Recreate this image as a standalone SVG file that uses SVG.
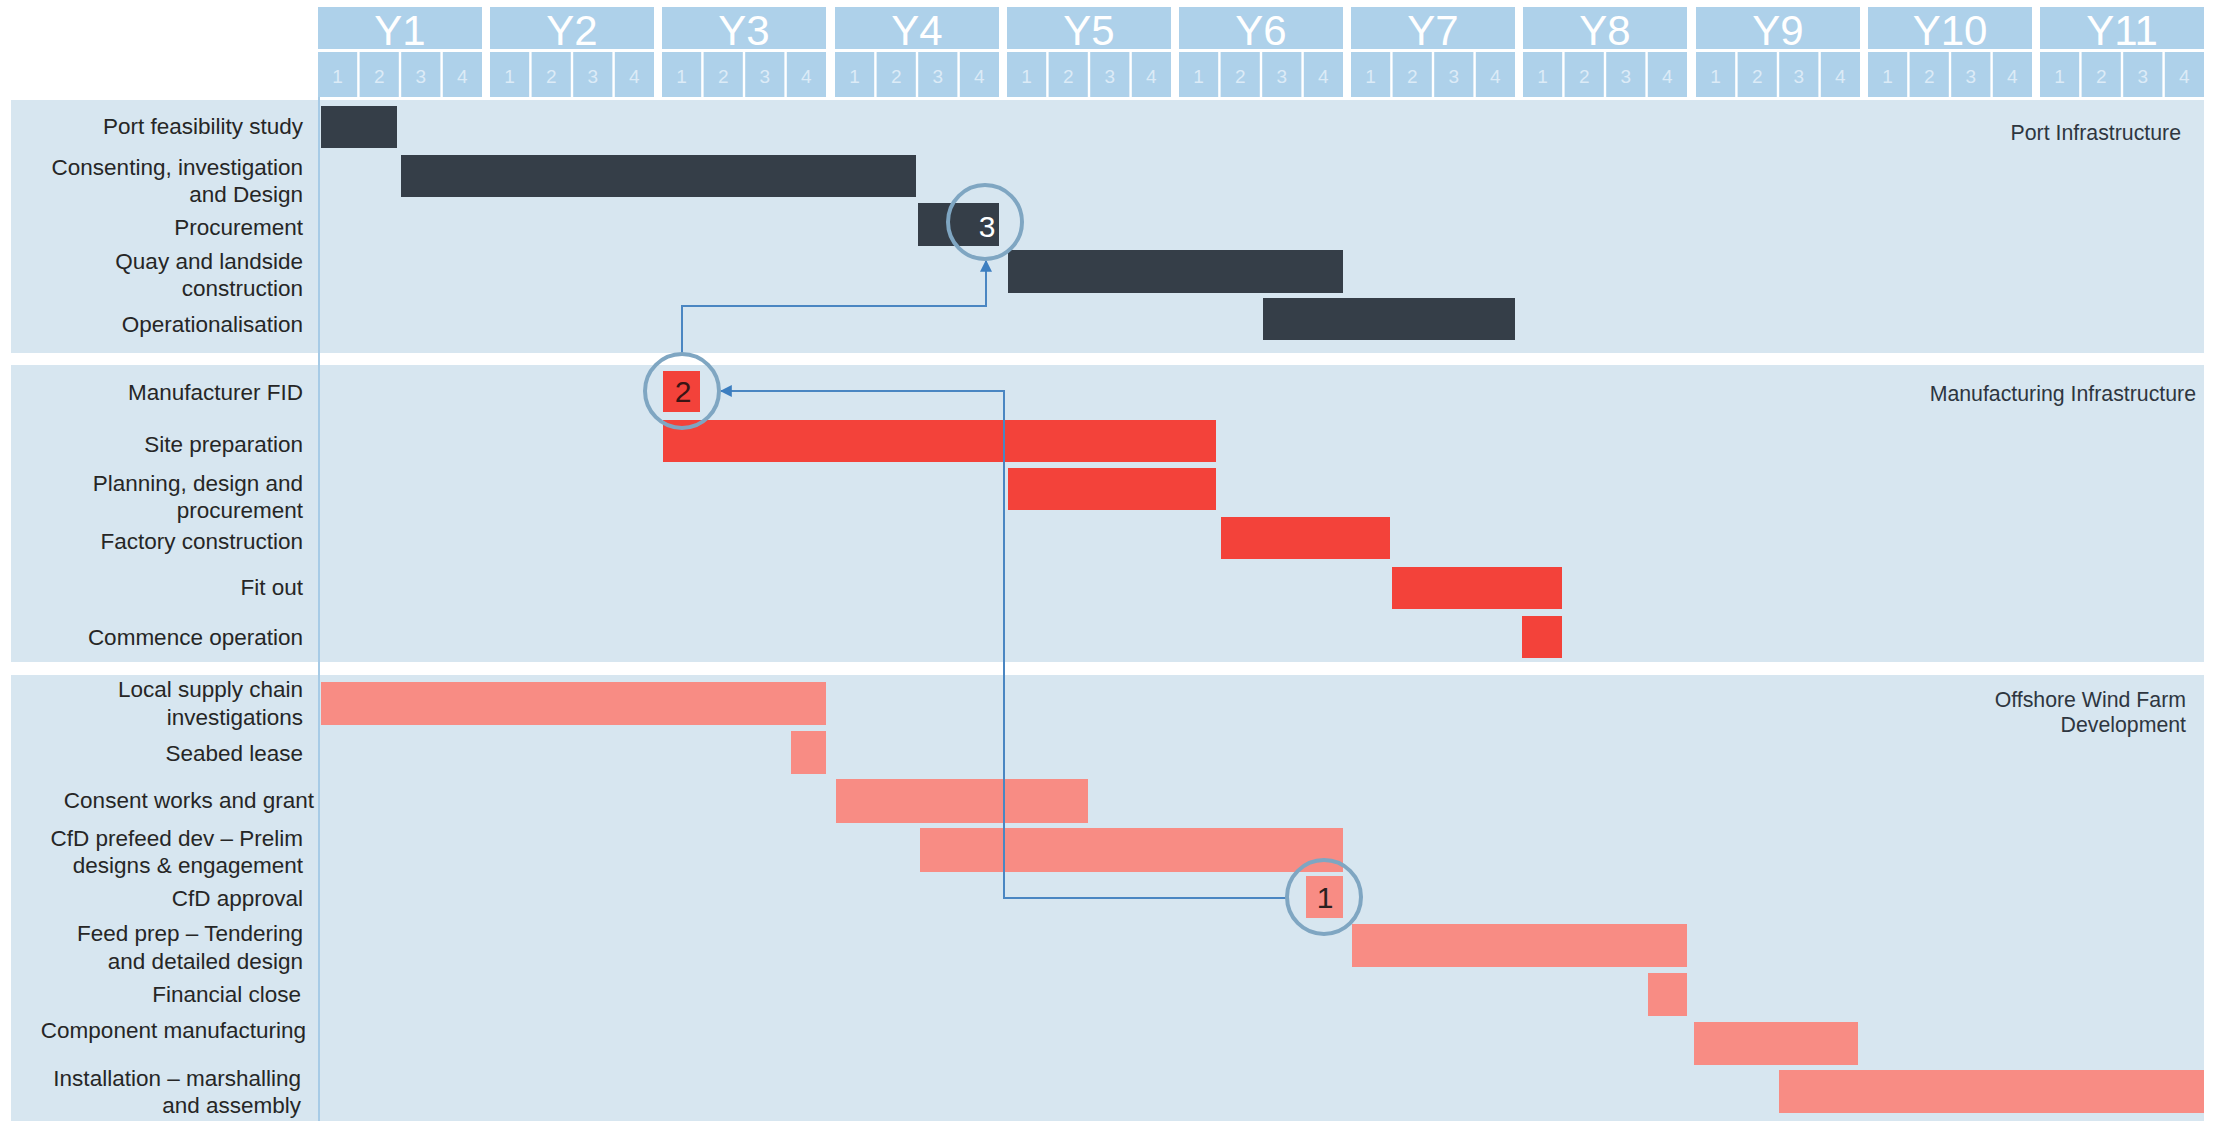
<svg xmlns="http://www.w3.org/2000/svg" xmlns:xlink="http://www.w3.org/1999/xlink" width="2224" height="1121" viewBox="0 0 2224 1121">
<style>
.hdr{fill:#AED1EA}
.yt{font-family:"Liberation Sans",Arial,sans-serif;font-size:42px;fill:#FFFFFF;text-anchor:middle}
.qt{font-family:"Liberation Sans",Arial,sans-serif;font-size:19px;fill:#DCEBF7;text-anchor:middle}
.panel{fill:#D7E6F0}
.lbl{font-family:"Liberation Sans",Arial,sans-serif;font-size:22.5px;fill:#262626;text-anchor:end}
.sec{font-family:"Liberation Sans",Arial,sans-serif;font-size:21.3px;fill:#2E3640;text-anchor:end}
.dark{fill:#353E48}
.red{fill:#F3423A}
.pink{fill:#F88C84}
.ring{fill:none;stroke:#7FA6C2;stroke-width:4}
.num{font-family:"Liberation Sans",Arial,sans-serif;font-size:30px;text-anchor:middle}
.conn{fill:none;stroke:#4A86C2;stroke-width:2}
</style>
<defs>
<marker id="arr" viewBox="0 0 10 10" refX="9" refY="5" markerWidth="12" markerHeight="12" markerUnits="userSpaceOnUse" orient="auto">
<path d="M0,0 L10,5 L0,10 z" fill="#3C7EC0"/>
</marker>
<g id="yr">
<rect class="hdr" x="0" y="7" width="164" height="42"/>
<rect class="hdr" x="0" y="52" width="39.2" height="45"/>
<rect class="hdr" x="41.6" y="52" width="39.2" height="45"/>
<rect class="hdr" x="83.2" y="52" width="39.2" height="45"/>
<rect class="hdr" x="124.8" y="52" width="39.2" height="45"/>
<text class="qt" x="19.6" y="83">1</text>
<text class="qt" x="61.2" y="83">2</text>
<text class="qt" x="102.8" y="83">3</text>
<text class="qt" x="144.4" y="83">4</text>
</g>
</defs>
<rect x="0" y="0" width="2224" height="1121" fill="#FFFFFF"/>

<g id="header">
<use xlink:href="#yr" href="#yr" x="318"/>
<use xlink:href="#yr" href="#yr" x="490"/>
<use xlink:href="#yr" href="#yr" x="662"/>
<use xlink:href="#yr" href="#yr" x="835"/>
<use xlink:href="#yr" href="#yr" x="1007"/>
<use xlink:href="#yr" href="#yr" x="1179"/>
<use xlink:href="#yr" href="#yr" x="1351"/>
<use xlink:href="#yr" href="#yr" x="1523"/>
<use xlink:href="#yr" href="#yr" x="1696"/>
<use xlink:href="#yr" href="#yr" x="1868"/>
<use xlink:href="#yr" href="#yr" x="2040"/>
<text class="yt" x="400" y="45">Y1</text>
<text class="yt" x="572" y="45">Y2</text>
<text class="yt" x="744" y="45">Y3</text>
<text class="yt" x="917" y="45">Y4</text>
<text class="yt" x="1089" y="45">Y5</text>
<text class="yt" x="1261" y="45">Y6</text>
<text class="yt" x="1433" y="45">Y7</text>
<text class="yt" x="1605" y="45">Y8</text>
<text class="yt" x="1778" y="45">Y9</text>
<text class="yt" x="1950" y="45">Y10</text>
<text class="yt" x="2122" y="45">Y11</text>
</g>

<g id="panels">
<rect class="panel" x="11" y="100" width="2193" height="253"/>
<rect class="panel" x="11" y="365" width="2193" height="297"/>
<rect class="panel" x="11" y="675" width="2193" height="446"/>
<line x1="319" y1="97" x2="319" y2="1121" stroke="#A7CBE6" stroke-width="2"/>
<text class="sec" x="2181" y="140">Port Infrastructure</text>
<text class="sec" x="2196" y="401">Manufacturing Infrastructure</text>
<text class="sec" x="2186" y="707">Offshore Wind Farm</text>
<text class="sec" x="2186" y="732">Development</text>
</g>

<g id="port-feasibility-study"><text class="lbl" x="303" y="134">Port feasibility study</text><rect class="dark" x="321" y="106" width="76" height="42"/></g>
<g id="consenting-investigation-design"><text class="lbl" x="303" y="175">Consenting, investigation</text><text class="lbl" x="303" y="202">and Design</text><rect class="dark" x="401" y="155" width="515" height="42"/></g>
<g id="procurement"><text class="lbl" x="303" y="235">Procurement</text><rect class="dark" x="918" y="203" width="81" height="43"/></g>
<g id="quay-landside"><text class="lbl" x="303" y="269">Quay and landside</text><text class="lbl" x="303" y="296">construction</text><rect class="dark" x="1008" y="250" width="335" height="43"/></g>
<g id="operationalisation"><text class="lbl" x="303" y="332">Operationalisation</text><rect class="dark" x="1263" y="298" width="252" height="42"/></g>

<g id="manufacturer-fid"><text class="lbl" x="303" y="400">Manufacturer FID</text><rect class="red" x="663" y="371" width="37" height="41"/></g>
<g id="site-preparation"><text class="lbl" x="303" y="452">Site preparation</text><rect class="red" x="663" y="420" width="553" height="42"/></g>
<g id="planning-design-procurement"><text class="lbl" x="303" y="491">Planning, design and</text><text class="lbl" x="303" y="518">procurement</text><rect class="red" x="1008" y="468" width="208" height="42"/></g>
<g id="factory-construction"><text class="lbl" x="303" y="549">Factory construction</text><rect class="red" x="1221" y="517" width="169" height="42"/></g>
<g id="fit-out"><text class="lbl" x="303" y="595">Fit out</text><rect class="red" x="1392" y="567" width="170" height="42"/></g>
<g id="commence-operation"><text class="lbl" x="303" y="645">Commence operation</text><rect class="red" x="1522" y="616" width="40" height="42"/></g>

<g id="local-supply-chain"><text class="lbl" x="303" y="697">Local supply chain</text><text class="lbl" x="303" y="725">investigations</text><rect class="pink" x="321" y="682" width="505" height="43"/></g>
<g id="seabed-lease"><text class="lbl" x="303" y="761">Seabed lease</text><rect class="pink" x="791" y="731" width="35" height="43"/></g>
<g id="consent-works"><text class="lbl" x="314" y="808">Consent works and grant</text><rect class="pink" x="836" y="779" width="252" height="44"/></g>
<g id="cfd-prefeed"><text class="lbl" x="303" y="846">CfD prefeed dev – Prelim</text><text class="lbl" x="303" y="873">designs &amp; engagement</text><rect class="pink" x="920" y="828" width="423" height="44"/></g>
<g id="cfd-approval"><text class="lbl" x="303" y="906">CfD approval</text><rect class="pink" x="1306" y="876" width="37" height="42"/></g>
<g id="feed-prep"><text class="lbl" x="303" y="941">Feed prep – Tendering</text><text class="lbl" x="303" y="969">and detailed design</text><rect class="pink" x="1352" y="924" width="335" height="43"/></g>
<g id="financial-close"><text class="lbl" x="301" y="1002">Financial close</text><rect class="pink" x="1648" y="973" width="39" height="43"/></g>
<g id="component-manufacturing"><text class="lbl" x="306" y="1038">Component manufacturing</text><rect class="pink" x="1694" y="1022" width="164" height="43"/></g>
<g id="installation"><text class="lbl" x="301" y="1086">Installation – marshalling</text><text class="lbl" x="301" y="1113">and assembly</text><rect class="pink" x="1779" y="1070" width="425" height="43"/></g>

<g id="connectors">
<path class="conn" d="M1287,898 H1004 V391 H721" marker-end="url(#arr)"/>
<path class="conn" d="M682,354 V306 H986 V261" marker-end="url(#arr)"/>
</g>

<g id="milestone-3"><circle class="ring" cx="985" cy="222" r="37"/><text class="num" x="987" y="237" fill="#FFFFFF">3</text></g>
<g id="milestone-2"><circle class="ring" cx="682" cy="391" r="37"/><text class="num" x="683" y="402" fill="#3A1414">2</text></g>
<g id="milestone-1"><circle class="ring" cx="1324" cy="897" r="37"/><text class="num" x="1325" y="908" fill="#2A2020">1</text></g>
</svg>
